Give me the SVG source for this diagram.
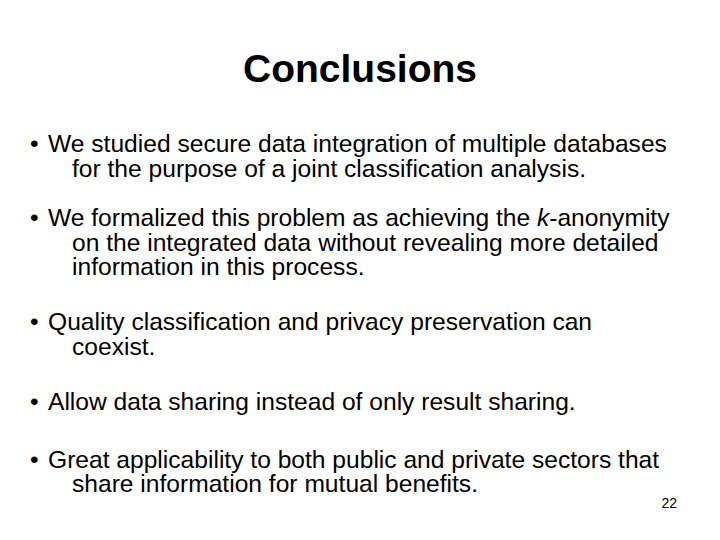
<svg xmlns="http://www.w3.org/2000/svg" width="720" height="540" viewBox="0 0 720 540">
<style>
text{font-family:"Liberation Sans",Arial,sans-serif;fill:#000}
.b{font-size:24.6px}
.t{font-size:39px;font-weight:bold}
</style>
<rect width="720" height="540" fill="#fff"/>
<g id="title"><text class="t" x="360" y="82" text-anchor="middle">Conclusions</text></g>
<g id="b1">
<text class="b" x="30" y="152">•</text>
<text class="b" x="48" y="152">We studied secure data integration of multiple databases</text>
<text class="b" x="72" y="177">for the purpose of a joint classification analysis.</text>
</g>
<g id="b2">
<text class="b" x="30" y="226">•</text>
<text class="b" x="48" y="226">We formalized this problem as achieving the <tspan font-style="italic">k</tspan>-anonymity</text>
<text class="b" x="72" y="251">on the integrated data without revealing more detailed</text>
<text class="b" x="72" y="275">information in this process.</text>
</g>
<g id="b3">
<text class="b" x="30" y="330">•</text>
<text class="b" x="48" y="330">Quality classification and privacy preservation can</text>
<text class="b" x="72" y="355">coexist.</text>
</g>
<g id="b4">
<text class="b" x="30" y="410">•</text>
<text class="b" x="48" y="410">Allow data sharing instead of only result sharing.</text>
</g>
<g id="b5">
<text class="b" x="30" y="468">•</text>
<text class="b" x="48" y="468">Great applicability to both public and private sectors that</text>
<text class="b" x="72" y="492">share information for mutual benefits.</text>
</g>
<g id="page"><text x="677" y="508" font-size="14" text-anchor="end">22</text></g>
</svg>
